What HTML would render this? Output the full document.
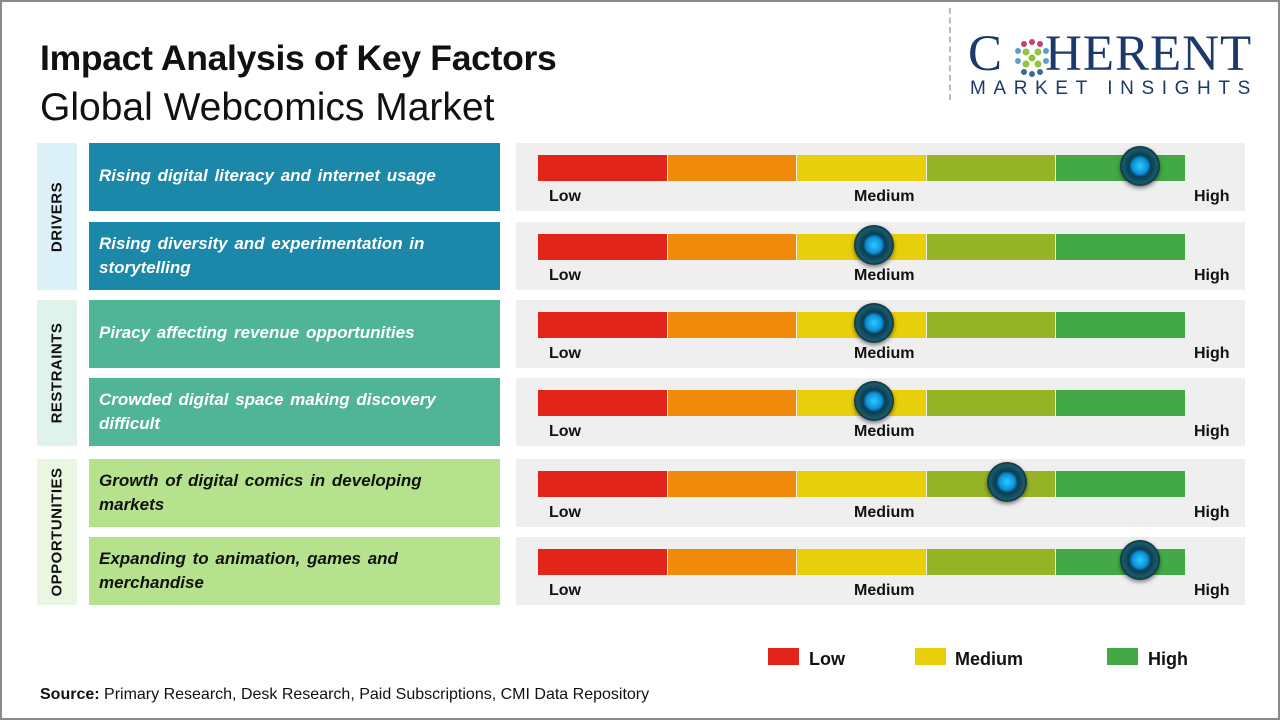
<!DOCTYPE html>
<html><head><meta charset="utf-8"><style>
*{margin:0;padding:0;box-sizing:border-box}
body{width:1280px;height:720px;background:#fff;position:relative;overflow:hidden;font-family:"Liberation Sans",sans-serif}
.frame{position:absolute;left:0;top:0;width:1280px;height:720px;border:2px solid #8a8a8a}
.a{position:absolute}
.cat{position:absolute;left:37px;width:40px}
.cat span{position:absolute;left:50%;top:50%;transform:translate(-50%,-50%) rotate(-90deg);font-weight:bold;font-size:15px;color:#111;white-space:nowrap;letter-spacing:0.5px}
.lab{position:absolute;left:89px;width:411px;height:68px;padding:10px 10px 0 10px;font-weight:bold;font-style:italic;font-size:17px;line-height:24px;color:#fff;word-spacing:2px}
.panel{position:absolute;left:516px;width:729px;height:68px;background:#efefef}
.seg{position:absolute;top:12px;height:26px}
.lo,.me,.hi{position:absolute;top:45px;font-weight:bold;font-size:16px;color:#111}
.knob{position:absolute;width:40px;height:40px;border-radius:50%;top:3px;background:radial-gradient(circle at 50% 50%,#2fc8ff 0,#0a8fd6 8px,#0b3e55 11px,#0f4a5c 14px,#1c5a6a 17px,#0c3140 20px);box-shadow:0 2px 4px rgba(0,0,0,.5)}
</style></head><body>
<div class="frame"></div>
<div class="a" style="left:40px;top:38px;font-size:35.5px;font-weight:bold;color:#111;letter-spacing:-0.3px">Impact Analysis of Key Factors</div>
<div class="a" style="left:40px;top:86px;font-size:39px;color:#111">Global Webcomics Market</div>
<div class="a" style="left:949px;top:8px;height:92px;border-left:2px dashed #bbb"></div>
<div class="a" style="left:968px;top:26px;font-family:'Liberation Serif',serif;font-size:51px;color:#1b3a6b;letter-spacing:1px;line-height:56px">C<span style="display:inline-block;width:42px"></span>HERENT</div>
<svg class="a" style="left:1010px;top:36px" width="44" height="44"><g fill="#5aa0c8"><circle cx="22" cy="6" r="3" fill="#c84070"/><circle cx="14" cy="8" r="3" fill="#c84070"/><circle cx="30" cy="8" r="3" fill="#c84070"/><circle cx="8" cy="15" r="3"/><circle cx="36" cy="15" r="3"/><circle cx="16" cy="16" r="3.5" fill="#8cc63f"/><circle cx="28" cy="16" r="3.5" fill="#8cc63f"/><circle cx="22" cy="22" r="3.5" fill="#8cc63f"/><circle cx="8" cy="25" r="3"/><circle cx="36" cy="25" r="3"/><circle cx="16" cy="28" r="3.5" fill="#8cc63f"/><circle cx="28" cy="28" r="3.5" fill="#8cc63f"/><circle cx="14" cy="36" r="3" fill="#3a6a9a"/><circle cx="22" cy="38" r="3" fill="#3a6a9a"/><circle cx="30" cy="36" r="3" fill="#3a6a9a"/></g></svg>
<div class="a" style="left:970px;top:78px;font-size:19px;color:#1b3a6b;letter-spacing:7.6px">MARKET INSIGHTS</div>

<div class="cat" style="top:143px;height:147px;background:#dcf0f8"><span>DRIVERS</span></div>
<div class="cat" style="top:300px;height:146px;background:#dff2ec"><span>RESTRAINTS</span></div>
<div class="cat" style="top:459px;height:146px;background:#ebf6e2"><span>OPPORTUNITIES</span></div>

<div class="lab" style="top:143px;background:#1b87a9;padding-top:21px">Rising digital literacy and internet usage</div>
<div class="lab" style="top:222px;background:#1b87a9">Rising diversity and experimentation in storytelling</div>
<div class="lab" style="top:300px;background:#4fb596;padding-top:21px">Piracy affecting revenue opportunities</div>
<div class="lab" style="top:378px;background:#4fb596">Crowded digital space making discovery difficult</div>
<div class="lab" style="top:459px;background:#b6e28e;color:#111">Growth of digital comics in developing markets</div>
<div class="lab" style="top:537px;background:#b6e28e;color:#111">Expanding to animation, games and merchandise</div>

<div id="panels"></div>
<script>
var tops=[143,222,300,378,459,537],kx=[1140,874,874,874,1007,1140];
var cols=["#e2241b","#ef8a0a","#e8cf0c","#97b427","#43a946"];
var h="";
tops.forEach(function(t,i){
 h+='<div class="panel" style="top:'+t+'px">';
 for(var j=0;j<5;j++){h+='<div class="seg" style="left:'+(22+j*129.6)+'px;width:128.5px;background:'+cols[j]+'"></div>';}
 h+='<div class="lo" style="left:33px">Low</div><div class="me" style="left:338px">Medium</div><div class="hi" style="left:678px">High</div>';
 h+='<div class="knob" style="left:'+(kx[i]-516-20)+'px"></div></div>';
});
document.getElementById("panels").innerHTML=h;
</script>

<div class="a" style="left:768px;top:648px;width:31px;height:17px;background:#e2241b"></div>
<div class="a" style="left:809px;top:649px;font-size:18px;font-weight:bold;color:#111">Low</div>
<div class="a" style="left:915px;top:648px;width:31px;height:17px;background:#e8cf0c"></div>
<div class="a" style="left:955px;top:649px;font-size:18px;font-weight:bold;color:#111">Medium</div>
<div class="a" style="left:1107px;top:648px;width:31px;height:17px;background:#43a946"></div>
<div class="a" style="left:1148px;top:649px;font-size:18px;font-weight:bold;color:#111">High</div>

<div class="a" style="left:40px;top:686px;font-size:16px;color:#111"><b>Source:</b> Primary Research, Desk Research, Paid Subscriptions, CMI Data Repository</div>
</body></html>
